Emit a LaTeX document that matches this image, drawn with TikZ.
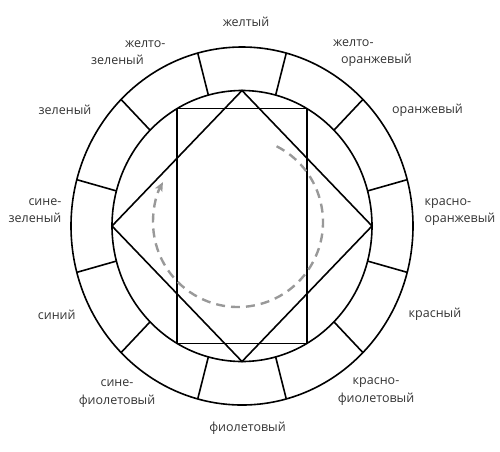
\documentclass[tikz,border=0pt]{standalone}
\usepackage{fontspec}
\setmainfont{Open Sans}
\usetikzlibrary{arrows.meta}

\begin{document}
\begin{tikzpicture}[x=1pt,y=-1pt,line width=1.6pt,
  hue/.style={font=\fontsize{12.5}{17.5}\selectfont,text=black!80,inner sep=0pt},
  path/.style={line width=2.4pt,black!40,dash pattern=on 9pt off 6pt,
    -{Stealth[length=9pt,width=8pt,inset=2pt]}}]
  \useasboundingbox (0,0) rectangle (500,451);

  \begin{scope}[shift={(242,226)}]
    % Ring
    \draw (0,0) ellipse (171 and 179);
    \draw (0,0) ellipse (130 and 135.5);

    % Dividers
    \foreach \a in {15,45,...,345}
      \draw (\a:130 and 135.5) -- (\a:171 and 179);

    % Square
    \draw (0:130 and 135.5) -- (90:130 and 135.5) -- (180:130 and 135.5)
      -- (270:130 and 135.5) -- cycle;

    % Rectangle
    \draw (60:130 and 135.5) -- (120:130 and 135.5) -- (240:130 and 135.5)
      -- (300:130 and 135.5) -- cycle;

    % Turn
    \draw[path] ([shift={(-63:85)}]-4,-4) arc[start angle=-63,end angle=208,radius=85];
  \end{scope}

  % Colours
  \node[hue] (y) at (246,22) {желтый};
  \node[hue,align=left] (yo) at (372.5,53) {желто-\\\hspace*{8pt}оранжевый};
  \node[hue] (o) at (427.5,110) {оранжевый};
  \node[hue,align=left] (ro) at (460,212) {красно-\\оранжевый};
  \node[hue] (r) at (435,314) {красный};
  \node[hue,align=center] (rv) at (376,391.5) {красно-\\фиолетовый};
  \node[hue] (v) at (247.5,428.5) {фиолетовый};
  \node[hue,align=center] (bv) at (117,393.5) {сине-\\фиолетовый};
  \node[hue] (b) at (56.7,315) {синий};
  \node[hue,align=right] (bg) at (35,210.5) {сине-\\зеленый};
  \node[hue] (g) at (65,110) {зеленый};
  \node[hue,align=left] (yg) at (128.3,52.5) {\hspace*{34pt}желто-\\зеленый};
\end{tikzpicture}
\end{document}
